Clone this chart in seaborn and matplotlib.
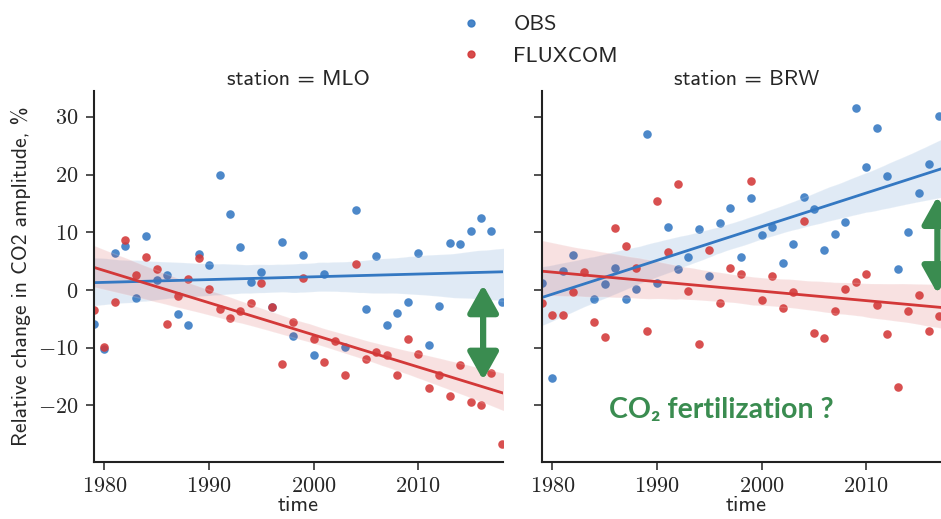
import numpy as np
import pandas as pd
import matplotlib
matplotlib.use("Agg")
import matplotlib.pyplot as plt
from matplotlib.lines import Line2D
from matplotlib.ticker import FuncFormatter
import seaborn as sns

# yearly relative change in CO2 seasonal amplitude (%)
years_mlo = list(range(1979, 2019))
mlo_obs = [-5.8, -10.3, 6.5, 7.7, -1.3, 9.4, 1.7, 2.6, -4.2, -6.1,
           6.2, 4.3, 19.9, 13.1, 7.5, 1.4, 3.1, -3.0, 8.3, -7.9,
           6.1, -11.3, 2.8, np.nan, -9.8, 13.9, -3.2, 5.9, -6.1, -3.9,
           -2.1, 6.5, -9.5, -2.7, 8.2, 7.9, 10.2, 12.5, 10.2, -2.1]
mlo_flux = [-3.5, -9.9, -2.1, 8.7, 2.6, 5.8, 3.6, -5.8, -1.0, 1.9,
            5.6, 0.2, -3.2, -4.8, -3.6, -2.3, 1.2, -2.9, -12.8, -5.6,
            2.1, -8.5, -12.4, -8.8, -14.7, 4.6, -12.0, -10.7, -11.3, -14.8,
            -8.4, -11.1, -16.9, -14.7, -18.3, -13.0, -19.4, -20.0, -14.4, -26.7]

years_brw = list(range(1979, 2018))
brw_obs = [1.3, -15.2, 3.3, 6.1, np.nan, -1.6, 1.0, 3.9, -1.6, 0.1,
           27.0, 1.3, 10.9, 3.6, 5.7, 10.6, 2.5, 11.7, 14.2, 5.8,
           15.9, 9.6, 10.9, 4.7, 8.0, 16.2, 14.1, 7.0, 9.8, 11.8,
           31.5, 21.4, 28.1, 19.7, 3.6, 10.0, 16.8, 21.8, 30.2]
brw_flux = [-2.3, -4.3, -4.3, -0.4, 3.2, -5.5, -8.1, 10.7, 7.6, 3.9,
            -7.1, 15.5, 6.6, 18.3, -0.1, -9.4, 7.0, -2.3, 3.9, 2.7,
            18.9, -1.8, 2.4, -3.1, -0.3, 12.0, -7.5, -8.3, -3.6, 0.1,
            1.4, 2.8, -2.6, -7.7, -16.8, -3.6, -0.8, -7.1, -4.5]

parts = []
for st, yrs, obs, flux in [("MLO", years_mlo, mlo_obs, mlo_flux),
                           ("BRW", years_brw, brw_obs, brw_flux)]:
    parts.append(pd.DataFrame({"time": yrs, "value": obs, "source": "OBS", "station": st}))
    parts.append(pd.DataFrame({"time": yrs, "value": flux, "source": "FLUXCOM", "station": st}))
df = pd.concat(parts, ignore_index=True).dropna()

blue = "#3478c2"
red = "#d33838"
green = "#3a8c50"

sns.set_theme(style="ticks")
plt.rcParams["font.family"] = ["cmss10", "DejaVu Sans"]
plt.rcParams["mathtext.fontset"] = "cm"
plt.rcParams["axes.unicode_minus"] = True

g = sns.lmplot(data=df, x="time", y="value", hue="source", col="station",
               palette={"OBS": blue, "FLUXCOM": red}, hue_order=["OBS", "FLUXCOM"],
               legend=False, truncate=False, sharey=True,
               scatter_kws={"s": 38, "alpha": 0.88, "linewidths": 0},
               line_kws={"lw": 2})

fig = g.figure
fig.set_size_inches(9.41, 5.19)
ax_l, ax_r = g.axes.flat
ax_l.set_position([94 / 941, 57 / 519, 409 / 941, 371 / 519])
ax_r.set_position([542 / 941, 57 / 519, 409 / 941, 371 / 519])

fmt = FuncFormatter(lambda v, p: "$%d$" % v)
for ax, st in [(ax_l, "MLO"), (ax_r, "BRW")]:
    ax.set_xlim(1979, 2018.1)
    ax.set_ylim(-29.8, 34.5)
    ax.set_xticks([1980, 1990, 2000, 2010])
    ax.set_yticks([-20, -10, 0, 10, 20, 30])
    ax.xaxis.set_major_formatter(fmt)
    ax.yaxis.set_major_formatter(fmt)
    ax.tick_params(labelsize=16, length=6, width=1.2, color="#333333", pad=5)
    for sp in ["left", "bottom"]:
        ax.spines[sp].set_linewidth(1.5)
        ax.spines[sp].set_color("#222222")
    ax.set_title("station = " + st, fontsize=16, pad=4)
    ax.set_xlabel("time", fontsize=16, labelpad=0)
ax_l.set_ylabel("Relative change in CO2 amplitude, %", fontsize=15.5, labelpad=5)
ax_r.set_ylabel("")
ax_r.tick_params(labelleft=False)

# double arrows marking the gap between the fits
arrow = dict(arrowstyle="<|-|>,head_length=0.75,head_width=0.42", color=green,
             lw=4.5, mutation_scale=22, shrinkA=0, shrinkB=0)
ax_l.annotate("", xy=(2016.2, 0.9), xytext=(2016.2, -15.6), arrowprops=arrow)
ax_r.annotate("", xy=(2016.8, 16.2), xytext=(2016.8, -0.6), arrowprops=arrow)
ax_r.text(1985.4, -20.8, "CO₂ fertilization ?", color=green, fontsize=20.5,
          fontweight="bold", family=["Lato", "DejaVu Sans"], va="center")

handles = [Line2D([], [], marker="o", ls="", color=c, markersize=5, alpha=0.9)
           for c in (blue, red)]
fig.legend(handles, ["OBS", "FLUXCOM"], loc="upper left",
           bbox_to_anchor=(0.47, 1.01), frameon=False, fontsize=16,
           labelspacing=0.55, handlelength=0.8, handletextpad=1.5)

fig.savefig("out.png", dpi=100)
